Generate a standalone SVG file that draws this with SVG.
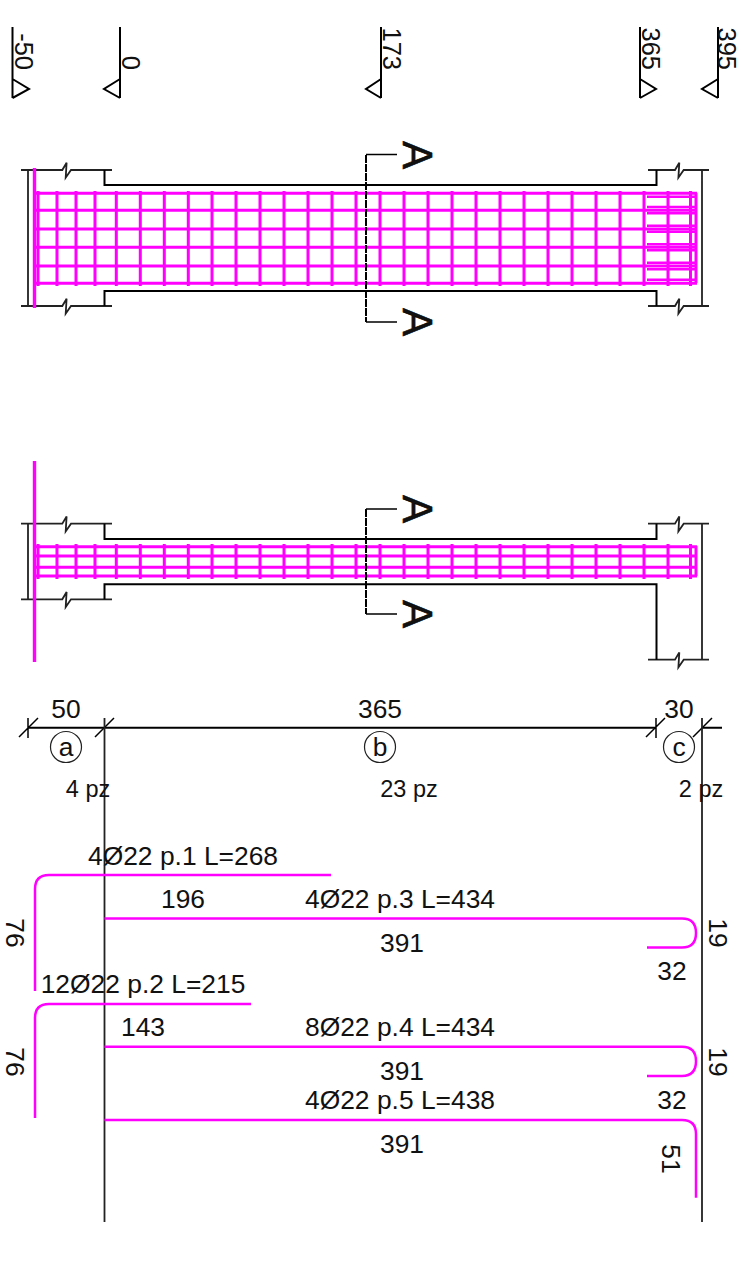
<svg xmlns="http://www.w3.org/2000/svg" width="741" height="1273" viewBox="0 0 741 1273">
<style>
.k{fill:none;stroke:#000;stroke-width:2}
.h{fill:none;stroke:#000;stroke-width:1.5}
.g{fill:none;stroke:#222;stroke-width:1.8}
.c{fill:none;stroke:#222;stroke-width:1.2}
.m{fill:none;stroke:#f0f;stroke-width:3}
.w{fill:none;stroke:#f0f;stroke-width:3.4}
.b{fill:none;stroke:#f0f;stroke-width:2.5}
.d{fill:none;stroke:#000;stroke-width:2;stroke-dasharray:8 1}
.t{font-family:"Liberation Sans",Arial,sans-serif;font-size:26.4px;fill:#111;text-anchor:middle}
.s{font-size:23.5px}
.A{font-size:42px;stroke:#000;stroke-width:0.6}
.e{text-anchor:end;font-size:25.5px}
</style>
<rect width="741" height="1273" fill="#fff"/>
<g id="levels">
<path class="k" d="M12.5 27V98M12.5 79L29 89L12.5 98M120 27V98M120 79L104 89L120 98M381 27V98M381 79L366 89L381 98M640 27V98M640 79L656 89L640 98M718 27V98M718 79L702 89L718 98"/>
<text class="t e" transform="translate(15 70) rotate(90)">-50</text>
<text class="t e" transform="translate(122 70) rotate(90)">0</text>
<text class="t e" transform="translate(383 70) rotate(90)">173</text>
<text class="t e" transform="translate(642 70) rotate(90)">365</text>
<text class="t e" transform="translate(717.500 70) rotate(90)">395</text>
</g>
<g id="beam-top">
<path class="g" d="M21 170H62.300L66.600 162.700L65.700 177.700L71 170H112M21 306H62.300L66.600 298.700L65.700 313.700L71 306H112M28 170V306M648 170H675L679.300 162.700L678.400 177.700L683.700 170H709M648 306H675L679.300 298.700L678.400 313.700L683.700 306H709M702 170V306"/>
<path class="k" d="M104.500 170V185H656.500V170M104.500 306V291H656.500V306"/>
<path class="w" d="M34.500 168V308"/>
<path class="m" d="M36 193.300H697M36 210.300H696M36 229H696M36 247.300H696M36 266H696M36 283.300H697M38 191V286M57 191V286M76 191V286M95 191V286M116.300 191V286M140.300 191V286M164.300 191V286M188.300 191V286M212 191V286M236 191V286M260 191V286M284 191V286M308 191V286M332 191V286M356 191V286M380 191V286M404 191V286M428 191V286M452 191V286M476 191V286M500 191V286M524 191V286M548 191V286M572 191V286M596 191V286M620 191V286M644 191V286M668 191V286M690.500 191V286M696 193V283"/>
<path class="b" d="M647 196.700H695M647 207H695M647 213.300H695M647 225.700H695M647 231.700H695M647 244.300H695M647 250.300H695M647 262.700H695M647 269.300H695M647 279.700H695"/>
<path class="d" d="M366 155V322"/>
<path class="h" d="M397 154.500H366M397 322H366"/>
<text class="t A" transform="translate(403 155) rotate(90)">A</text>
<text class="t A" transform="translate(403 322) rotate(90)">A</text>
</g>
<g id="beam-bottom">
<path class="g" d="M21 523.700H62.300L66.600 516.400L65.700 531.400L71 523.700H112M21 599.300H62.300L66.600 592L65.700 607L71 599.300H112M28 523.700V599.300M648 523.700H675L679.300 516.400L678.400 531.400L683.700 523.700H709M648 659.700H675L679.300 652.400L678.400 667.400L683.700 659.700H709M702 523.700V659.700"/>
<path class="k" d="M104.500 523.700V539H656.500V523.700M104.500 599.300V584.300H656.500V659.700"/>
<path class="w" d="M34.500 461V662"/>
<path class="m" d="M36 546.700H697M36 556H696M36 567.300H696M36 576H697M38 544V579M57 544V579M76 544V579M95 544V579M116.300 544V579M140.300 544V579M164.300 544V579M188.300 544V579M212 544V579M236 544V579M260 544V579M284 544V579M308 544V579M332 544V579M356 544V579M380 544V579M404 544V579M428 544V579M452 544V579M476 544V579M500 544V579M524 544V579M548 544V579M572 544V579M596 544V579M620 544V579M644 544V579M668 544V579M690.500 544V579M696 546V576"/>
<path class="d" d="M366 509V614"/>
<path class="h" d="M397 509H366M397 614H366"/>
<text class="t A" transform="translate(403 509) rotate(90)">A</text>
<text class="t A" transform="translate(403 614) rotate(90)">A</text>
</g>
<g id="dimensions">
<path class="k" d="M28 727.700H656M702 727.700H722"/>
<path class="h" d="M19 737L38 718M28 718V738M95 737L114 718M646 737L665 718M656 718V738M693 737L712 718"/>
<path class="g" d="M104.500 718V1222M702 718V1222"/>
<text class="t" x="66" y="718">50</text>
<text class="t" x="380" y="718">365</text>
<text class="t" x="679" y="718">30</text>
<circle class="c" cx="66" cy="747" r="15.500"/>
<circle class="c" cx="380" cy="747" r="15.500"/>
<circle class="c" cx="679" cy="747" r="15.500"/>
<text class="t" x="66" y="756">a</text>
<text class="t" x="380" y="756">b</text>
<text class="t" x="679" y="756">c</text>
<text class="t s" x="88" y="797">4 pz</text>
<text class="t s" x="409" y="797">23 pz</text>
<text class="t s" x="701" y="797">2 pz</text>
</g>
<g id="bars">
<path class="b" d="M331 875H49Q35 875 35 889V991"/>
<path class="b" d="M251 1004H49Q35 1004 35 1018V1118"/>
<path class="b" d="M104.500 918.500H682Q696 918.500 696 933Q696 947.500 682 947.500H647"/>
<path class="b" d="M104.500 1046.700H682Q696 1046.700 696 1061.300Q696 1076 682 1076H647"/>
<path class="b" d="M104.500 1120H682Q696 1120 696 1134V1197.700"/>
<text class="t" x="183" y="865">4Ø22 p.1 L=268</text>
<text class="t" x="183" y="908">196</text>
<text class="t" x="400" y="908">4Ø22 p.3 L=434</text>
<text class="t" x="402" y="952">391</text>
<text class="t" x="672" y="980">32</text>
<text class="t" x="143" y="993">12Ø22 p.2 L=215</text>
<text class="t" x="143" y="1036">143</text>
<text class="t" x="400" y="1036">8Ø22 p.4 L=434</text>
<text class="t" x="402" y="1080">391</text>
<text class="t" x="672" y="1109">32</text>
<text class="t" x="400" y="1109">4Ø22 p.5 L=438</text>
<text class="t" x="402" y="1153">391</text>
<text class="t" transform="translate(5.500 933) rotate(90)">76</text>
<text class="t" transform="translate(5.500 1062) rotate(90)">76</text>
<text class="t" transform="translate(709 933) rotate(90)">19</text>
<text class="t" transform="translate(709 1062) rotate(90)">19</text>
<text class="t" transform="translate(662 1159) rotate(90)">51</text>
</g>
</svg>
